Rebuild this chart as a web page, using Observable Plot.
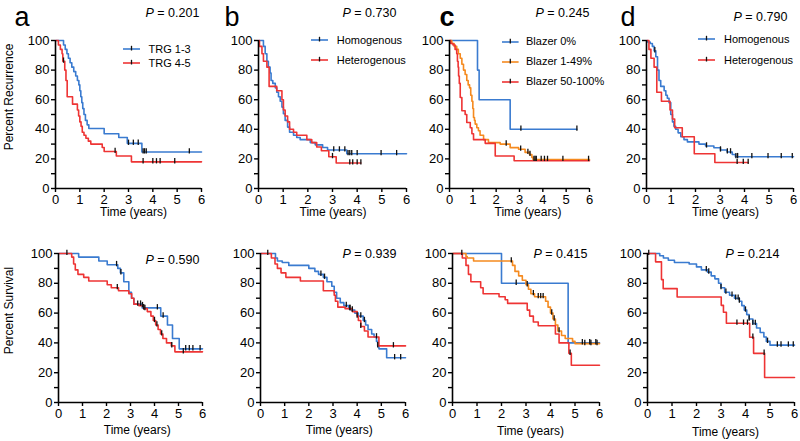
<!DOCTYPE html>
<html><head><meta charset="utf-8">
<script src="https://cdn.jsdelivr.net/npm/d3@7"></script>
<script src="https://cdn.jsdelivr.net/npm/@observablehq/plot@0.6"></script>
<style>
html,body{margin:0;padding:0;background:#fff;}
#chart{position:relative;width:800px;height:441px;overflow:hidden;font-family:"Liberation Sans",Arial,Helvetica,sans-serif;}
#chart svg{position:absolute;overflow:visible;}
.lg{position:absolute;font-size:11px;line-height:13px;white-space:nowrap;color:#000;}
</style></head><body><div id="chart"></div><script>
// ---------- data ----------
const years = [0,1,2,3,4,5,6];
const yMajor = [0,20,40,60,80,100];
const yMinor = [10,30,50,70,90];
const letters = ["a","b","c","d"];
const pTop = ["0.201","0.730","0.245","0.790"];
const pBottom = ["0.590","0.939","0.415","0.214"];
const yLabels = ["Percent Recurrence","Percent Survival"];
const xLabel = "Time (years)";
const legendA = ["TRG 1-3","TRG 4-5"];
const legendB = ["Homogenous","Heterogenous"];
const legendC = ["Blazer 0%","Blazer 1-49%","Blazer 50-100%"];
const legendD = ["Homogenous","Heterogenous"];

// Recurrence (top row)
const recA1T = [0,0.33,0.4,0.47,0.53,0.6,0.67,0.75,0.83,0.9,0.96,1.0,1.04,1.08,1.12,1.17,1.23,1.3,1.37,2.0,2.6,2.95,3.55,6];
const recA1S = [100,97,94,91,88,85,82,79,76,73,70,66,62,58,54,50,46,43,40.5,37,34.5,30.5,24.7,24.7];
const recA1C = [3.0,3.2,3.4,3.6,3.66,3.73,5.5];
const recA2T = [0,0.12,0.2,0.27,0.3,0.38,0.43,0.48,0.7,0.9,0.95,1.0,1.05,1.1,1.17,1.25,1.35,1.45,1.92,2.0,2.5,3.12,6];
const recA2S = [100,97,94,91,86,80,73,62,57,53,49,45,42,38,36,34,32,30,27.7,25,22,18,18];
const recA2C = [0.33,2.45,3.6,4.0,4.15,4.3,4.9];

const recB1T = [0,0.2,0.27,0.34,0.4,0.47,0.51,0.58,0.68,0.74,0.81,0.88,0.95,1.01,1.08,1.18,1.26,1.42,1.55,1.69,2.1,2.3,2.6,2.8,3.58,6];
const recB1S = [100,96,91,86,82,78,73,71,68,65,62,59,55,50.5,46,41.5,38,36,34.5,33,31,29.5,27.7,26,23.5,23.5];
const recB1C = [3.05,3.28,3.5,3.63,3.7,3.78,4.0,4.97,5.6];
const recB2T = [0,0.04,0.14,0.2,0.34,0.43,0.74,0.95,1.01,1.08,1.18,1.26,1.42,1.55,1.96,2.16,2.36,2.55,2.85,3.15,4.15];
const recB2S = [100,96,91,86,82,69,66,60,53,49,45,40,38,36,33,31,28,25.5,21.5,17.2,17.2];
const recB2C = [3.0,3.7,3.82,4.0,4.15];

const recC1T = [0,1.2,1.27,2.6,5.46];
const recC1S = [100,80,60,40,40];
const recC1C = [3.06,5.46];
const recC2T = [0,0.1,0.2,0.31,0.38,0.46,0.53,0.6,0.67,0.74,0.8,0.86,0.91,0.96,1.0,1.03,1.07,1.1,1.17,1.24,1.31,1.46,1.67,2.17,2.6,2.96,3.24,3.43,3.53,3.58,6];
const recC2S = [100,98,96,94,91,88,84,80,77,73,70,68,63,59,54,48,46,43.5,41,39,36,33,31,30,27.6,26.5,24.4,23,21,19.6,19.6];
const recC2C = [2.43,3.05,3.36,3.45,3.62,3.67,3.72,3.93,4.07,4.2,4.86,5.96];
const recC3T = [0,0.05,0.15,0.24,0.31,0.34,0.37,0.39,0.42,0.46,0.53,0.67,0.74,0.89,0.96,1.03,1.53,1.96,2.77,6];
const recC3S = [100,98,97,94,91,86,82,76,71,61.5,52.5,50,44.6,41,37,33,30.5,22,18.7,18.7];
const recC3C = [];

const recD1T = [0,0.04,0.15,0.24,0.31,0.38,0.45,0.51,0.58,0.72,0.79,0.85,0.92,0.99,1.06,1.12,1.19,1.29,1.4,1.53,1.67,2.14,2.41,2.75,3.02,3.29,3.5,3.63,6];
const recD1S = [100,99,98,96,93,89,80,73,69,66,63,61,58,50,45,42,40,37.6,35,33,31.5,30,28.7,27.5,26,24.7,23,21.5,21.5];
const recD1C = [0.34,2.45,3.02,3.3,3.43,3.65,3.72,4.3,4.96,5.5,5.95];
const recD2T = [0,0.1,0.18,0.31,0.42,0.61,0.96,1.06,1.15,1.46,1.95,2.79,4.15];
const recD2S = [100,94,88,82,65,59,53,47,41,35,23.5,17.6,17.6];
const recD2C = [3.7,3.95,4.15];

// Survival (bottom row)
const surA1T = [0,0.84,1.68,2.03,2.47,2.58,2.72,2.93,3.04,3.14,3.49,4.26,4.54,4.75,5.03,6];
const surA1S = [100,97.6,95,92.5,90,87,81,74,70,66,63.5,58,52,43,36,36];
const surA1C = [2.42,2.6,3.3,3.42,3.55,4.12,4.36,5.3,5.45,5.6,5.9];
const surA2T = [0,0.55,0.63,0.7,0.81,1.05,1.26,2.03,2.2,2.5,2.93,3.05,3.14,3.35,3.55,3.7,3.85,3.95,4.05,4.15,4.25,4.35,4.5,4.7,4.85,6];
const surA2S = [100,97.6,93,89,86,84,81.5,79,77,75,73,70,66,65,63,61,58,55,52,49,46,43,40,38,34,34];
const surA2C = [0.35,2.45,3.5,3.6,4.0,4.1,4.3,4.72,5.2];

const surB1T = [0,0.62,0.7,0.9,1.17,2.0,2.25,2.4,2.6,2.75,2.95,3.05,3.15,3.3,3.45,3.65,3.75,3.9,4.05,4.25,4.35,4.45,4.6,4.7,4.8,4.85,4.9,5.22,6];
const surB1S = [100,97,95,94,92,90,88,86,84,81,78,74,70,67,65,63,62,60,58,55,52,49,46,44,41,38,36,30,30];
const surB1C = [0.3,2.5,2.65,3.55,3.7,3.8,4.15,4.3,4.85,5.55,5.8];
const surB2T = [0,0.45,0.6,0.7,0.85,1.05,1.65,2.6,3.05,3.1,3.2,3.5,3.8,4.0,4.05,4.15,4.3,4.45,4.9,6];
const surB2S = [100,97,93,90,87,84,81.5,75,72,68,64,63,61,58,55,51,48,44,38,38];
const surB2C = [3.7,4.0,4.15,4.8,5.5];

const surC1T = [0,2.0,4.72,6];
const surC1S = [100,80,40,40];
const surC1C = [2.6,5.3,5.6,5.85];
const surC2T = [0,0.55,0.6,0.86,2.45,2.55,2.7,2.85,3.0,3.1,3.2,3.35,3.8,3.9,4.0,4.1,4.2,4.3,4.45,4.6,4.9,5.0,6];
const surC2S = [100,98,97,95,92,88,85,82,79,76,73,71,68,64,60,56,52,48,45,43,41,39.5,39.5];
const surC2C = [2.4,3.05,3.3,3.5,3.6,3.7,4.05,4.15,4.35,5.4,5.65,5.9];
const surC3T = [0,0.4,0.55,0.65,0.75,1.15,1.25,1.9,2.15,2.25,3.05,3.15,3.3,3.5,4.2,4.35,4.75,4.85,6];
const surC3S = [100,97,92,86,81,77,73,71,69,66.5,62,58,54,51.5,46,40,33,25,25];
const surC3C = [0.38,4.8];

const surD1T = [0,0.5,0.65,0.85,1.1,1.7,2.0,2.2,2.45,2.6,2.75,2.9,3.0,3.15,3.35,3.55,3.75,3.85,3.95,4.05,4.15,4.3,4.45,4.6,4.75,4.85,5.0,6];
const surD1S = [100,98.5,97,95.5,94,93,91,89,87.5,85,83,80,77,74,72,70,68,65,62,59,56,53,50,47,44,41,38.5,38.5];
const surD1C = [0.05,2.4,2.5,3.0,3.2,3.45,3.6,3.7,3.75,4.0,4.15,4.3,4.4,4.9,5.3,5.45,5.75,5.95];
const surD2T = [0,0.33,0.57,0.64,1.21,3.01,3.1,3.22,4.17,4.33,4.78,6];
const surD2S = [100,94.4,82.5,76.4,70.8,65.2,60.6,53.2,43.8,33,16.8,16.8];
const surD2C = [3.65,3.92,4.08,4.3,4.76];

// ---------- styling / layout ----------
const BLUE = "#3a7bd0", RED = "#ee3434", ORANGE = "#f58a1f";
const FONT = '"Liberation Sans", Arial, Helvetica, sans-serif';
const chart = document.getElementById("chart");

function km(T, S) { return T.map((t, i) => ({t, s: S[i]})); }
function valueAt(T, S, t) { let v = S[0]; for (let i = 0; i < T.length; i++) if (T[i] <= t) v = S[i]; return v; }

function makePanel(cfg) {
  const {left, top, height, x0, x6, yTop, yBot, series, texts} = cfg;
  const width = Math.round(x6 - left + 8);
  const mL = x0 - left, mR = width - (x6 - left), mT = yTop - top, mB = height - (yBot - top);
  const marks = [];
  for (const s of series) {
    marks.push(Plot.line(km(s.T, s.S), {x: "t", y: "s", curve: "step-after", stroke: s.color, strokeWidth: 1.6}));
  }
  for (const s of series) {
    marks.push(Plot.ruleX(s.C.map(t => ({t, v: valueAt(s.T, s.S, t)})),
      {x: "t", y1: d => d.v - 1.4, y2: d => d.v + 2.2, stroke: "#111", strokeWidth: 1.3}));
  }
  marks.push(Plot.axisY({ticks: yMajor, tickSize: 4, tickPadding: 2, fontSize: 13, strokeWidth: 1.4, label: null, tickFormat: d => String(d)}));
  marks.push(Plot.axisY({ticks: yMinor, tickSize: 4, tickFormat: () => "", strokeWidth: 1.4, label: null}));
  marks.push(Plot.axisX({ticks: years, tickSize: 4, tickPadding: 2, fontSize: 13, strokeWidth: 1.4, label: null, tickFormat: d => String(d)}));
  marks.push(Plot.ruleX([0], {stroke: "#000", strokeWidth: 1.6}));
  marks.push(Plot.ruleY([0], {stroke: "#000", strokeWidth: 1.6}));
  for (const t of texts) {
    marks.push(Plot.text([t.text], {
      text: d => d, frameAnchor: "top-left", dx: t.x - x0, dy: t.y - yTop,
      textAnchor: t.anchor || "start", lineAnchor: "middle", fontSize: t.size,
      fontStyle: t.style || "normal", fontWeight: t.weight || "normal", rotate: t.rotate || 0, fill: "#000"
    }));
  }
  const svg = Plot.plot({
    width, height, marginLeft: mL, marginRight: mR, marginTop: mT, marginBottom: mB,
    x: {domain: [0, 6], label: null}, y: {domain: [0, 100], label: null},
    style: {fontFamily: FONT, fontSize: "13px", background: "transparent", overflow: "visible", color: "#000"},
    marks
  });
  svg.style.position = "absolute";
  svg.style.left = left + "px";
  svg.style.top = top + "px";
  chart.appendChild(svg);
}

function pText(x, y, val) {
  return [
    {text: "P", x, y, size: 12.5, style: "italic"},
    {text: "= " + val, x: x + 11.8, y, size: 12.5}
  ];
}

function addLegend(labels, cols, x1, x2, ys, tx) {
  labels.forEach((lab, i) => {
    const y = ys[i], w = x2 - x1;
    const sw = `<svg style="left:${x1}px;top:${y - 5}px" width="${w}" height="10">
      <line x1="0" x2="${w}" y1="5" y2="5" stroke="${cols[i]}" stroke-width="1.6"/>
      <line x1="${w / 2}" x2="${w / 2}" y1="1.8" y2="6.5" stroke="#111" stroke-width="1.3"/></svg>`;
    chart.insertAdjacentHTML("beforeend", sw);
    chart.insertAdjacentHTML("beforeend", `<div class="lg" style="left:${tx}px;top:${y - 6.5}px">${lab}</div>`);
  });
}

const S = (T, Sv, C, color) => ({T, S: Sv, C, color});
const letterSize = 27;

// Top row
makePanel({left: 0, top: 0, height: 220, x0: 55, x6: 201, yTop: 40, yBot: 188,
  series: [S(recA1T, recA1S, recA1C, BLUE), S(recA2T, recA2S, recA2C, RED)],
  texts: [{text: letters[0], x: 14, y: 16.5, size: letterSize},
    ...pText(145, 12, pTop[0]),
    {text: yLabels[0], x: 8.5, y: 96.5, size: 12, anchor: "middle", rotate: -90},
    {text: xLabel, x: 133, y: 212, size: 12, anchor: "middle"}]});
makePanel({left: 200, top: 0, height: 220, x0: 258, x6: 406, yTop: 40, yBot: 188,
  series: [S(recB1T, recB1S, recB1C, BLUE), S(recB2T, recB2S, recB2C, RED)],
  texts: [{text: letters[1], x: 224, y: 16.5, size: letterSize},
    ...pText(342, 12, pTop[1]),
    {text: xLabel, x: 332.5, y: 212, size: 12, anchor: "middle"}]});
makePanel({left: 400, top: 0, height: 220, x0: 449, x6: 589, yTop: 40, yBot: 188,
  series: [S(recC1T, recC1S, recC1C, BLUE), S(recC2T, recC2S, recC2C, ORANGE), S(recC3T, recC3S, recC3C, RED)],
  texts: [{text: letters[2], x: 439, y: 16.5, size: letterSize, weight: "bold"},
    ...pText(535, 12.7, pTop[2]),
    {text: xLabel, x: 527.5, y: 212, size: 12, anchor: "middle"}]});
makePanel({left: 600, top: 0, height: 220, x0: 646, x6: 793, yTop: 40, yBot: 188,
  series: [S(recD1T, recD1S, recD1C, BLUE), S(recD2T, recD2S, recD2C, RED)],
  texts: [{text: letters[3], x: 620, y: 16.5, size: letterSize},
    ...pText(733, 16, pTop[3]),
    {text: xLabel, x: 725, y: 212, size: 12, anchor: "middle"}]});

// Bottom row
makePanel({left: 0, top: 220, height: 221, x0: 58, x6: 202, yTop: 253, yBot: 402,
  series: [S(surA1T, surA1S, surA1C, BLUE), S(surA2T, surA2S, surA2C, RED)],
  texts: [...pText(145, 259, pBottom[0]),
    {text: yLabels[1], x: 8.5, y: 310, size: 12, anchor: "middle", rotate: -90},
    {text: xLabel, x: 136.7, y: 430, size: 12, anchor: "middle"}]});
makePanel({left: 200, top: 220, height: 221, x0: 260, x6: 405, yTop: 253, yBot: 402,
  series: [S(surB1T, surB1S, surB1C, BLUE), S(surB2T, surB2S, surB2C, RED)],
  texts: [...pText(342, 253, pBottom[1]),
    {text: xLabel, x: 338.7, y: 430, size: 12, anchor: "middle"}]});
makePanel({left: 400, top: 220, height: 221, x0: 452, x6: 599, yTop: 253, yBot: 402,
  series: [S(surC1T, surC1S, surC1C, BLUE), S(surC2T, surC2S, surC2C, ORANGE), S(surC3T, surC3S, surC3C, RED)],
  texts: [...pText(533, 253, pBottom[2]),
    {text: xLabel, x: 530, y: 431, size: 12, anchor: "middle"}]});
makePanel({left: 600, top: 220, height: 221, x0: 647, x6: 794, yTop: 253, yBot: 402,
  series: [S(surD1T, surD1S, surD1C, BLUE), S(surD2T, surD2S, surD2C, RED)],
  texts: [...pText(725, 253, pBottom[3]),
    {text: xLabel, x: 725, y: 432, size: 12, anchor: "middle"}]});

// Legends
addLegend(legendA, [BLUE, RED], 123, 140, [49.3, 63.3], 148.5);
addLegend(legendB, [BLUE, RED], 311, 328, [40, 60], 336.7);
addLegend(legendC, [BLUE, ORANGE, RED], 501.7, 518.3, [41.7, 61.7, 81.7], 526);
addLegend(legendD, [BLUE, RED], 698, 715, [39.3, 60], 724);
</script></body></html>
